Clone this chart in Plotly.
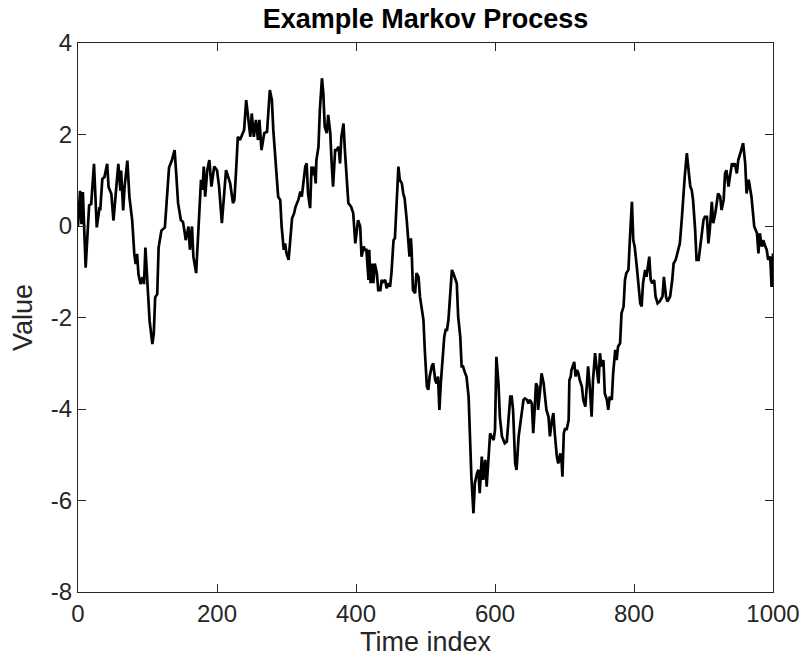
import plotly.graph_objects as go

# Sampled path of the process, split into consecutive stretches of time
t_000 = [0, 3, 5, 7, 11, 14, 16, 19, 23, 27, 31, 32, 35, 38, 42, 44, 48, 51, 54, 58,
         61, 62, 65, 67, 71, 74, 78, 81, 83, 85, 87, 90, 93, 95, 97, 99, 103, 107, 109,
         111, 114, 116, 120, 125, 127, 131, 135]
v_000 = [0.00, 0.77, 0.04, 0.74, -0.91, -0.18, 0.45, 0.48, 1.36, -0.03, 0.41, 0.34, 1.03,
         1.07, 1.36, 0.85, 0.70, 0.12, 0.74, 1.36, 0.77, 1.21, 0.34, 0.85, 1.43, 0.63, 0.12,
         -0.61, -0.83, -0.61, -1.05, -1.27, -1.12, -1.27, -0.47, -1.12, -2.07, -2.58, -2.36,
         -1.56, -1.49, -0.47, -0.10, -0.03, 0.48, 1.28, 1.43]

t_140 = [139, 141, 144, 148, 151, 153, 155, 159, 161, 164, 166, 170, 173, 177, 179, 181,
         183, 186, 189, 192, 196, 200, 203, 207, 210, 213, 216, 219, 223, 225, 227, 230,
         233, 237, 239, 242, 248, 250, 253, 256, 259, 261, 264, 268]
v_140 = [1.66, 1.22, 0.50, 0.13, 0.09, -0.09, -0.31, -0.01, -0.52, -0.01, -0.67, -1.03,
         -0.23, 1.01, 0.79, 1.30, 0.64, 1.22, 1.44, 0.86, 1.30, 1.22, 0.86, 0.06, 0.64, 1.22,
         1.08, 0.93, 0.50, 0.57, 1.08, 1.95, 1.88, 2.03, 2.10, 2.75, 1.95, 2.46, 1.95, 2.32,
         1.88, 2.32, 1.66, 2.03]

t_270 = [272, 276, 279, 281, 284, 286, 288, 291, 293, 296, 298, 300, 303, 305, 308, 311,
         313, 317, 320, 322, 324, 327, 329, 331, 334, 336, 339, 340, 342, 343, 346, 348,
         351, 353, 355, 358, 360, 363, 365, 367, 370, 372, 375, 377, 379, 382, 384, 387,
         389, 393, 396, 399, 401, 403, 406, 408, 411, 413]
v_270 = [2.06, 2.97, 2.75, 2.10, 1.44, 0.86, 0.64, 0.57, -0.01, -0.52, -0.38, -0.60, -0.74,
         -0.38, 0.17, 0.28, 0.42, 0.57, 0.75, 0.64, 0.90, 1.30, 1.37, 0.71, 0.39, 1.30, 1.11,
         1.30, 0.93, 1.44, 1.73, 2.54, 3.23, 2.90, 2.17, 2.03, 2.43, 2.03, 1.37, 0.86, 1.66,
         1.66, 1.73, 1.37, 1.95, 2.24, 1.66, 1.08, 0.50, 0.42, 0.28, -0.38, -0.16, 0.13,
         -0.01, -0.67, -0.45, -0.52]

t_415 = [415, 418, 419, 421, 423, 425, 427, 430, 432, 435, 437, 439, 442, 444, 447, 449,
         451, 454, 456, 459, 461, 463, 466, 468, 470, 473, 475, 477, 479, 480, 482, 485,
         487, 490, 492, 494, 497, 499, 502, 504, 506, 509, 511, 514, 516, 518, 520, 522,
         524, 527, 529, 531, 533, 535, 538, 540, 542]
v_415 = [-0.52, -1.18, -0.52, -1.25, -0.82, -1.25, -0.82, -1.03, -1.40, -1.40, -1.18, -1.22,
         -1.18, -1.36, -1.25, -1.33, -1.03, -0.31, -0.27, 0.71, 1.30, 1.01, 0.93, 0.71, 0.60,
         0.13, -0.23, -0.67, -0.27, -0.52, -1.40, -1.47, -1.03, -1.11, -1.54, -1.76, -2.05,
         -2.71, -3.51, -3.58, -3.29, -3.07, -3.00, -3.37, -3.44, -3.29, -4.02, -3.44, -3.07,
         -2.42, -2.27, -2.27, -2.05, -1.54, -0.96, -1.03, -1.11]

t_545 = [545, 547, 550, 552, 554, 557, 559, 562, 564, 566, 569, 571, 574, 576, 578, 581,
         583, 586, 588, 590, 593, 595, 598, 600, 602, 605, 607, 610, 612, 614, 617, 619,
         622, 624, 626, 629, 631, 634, 636, 638, 641, 643, 646, 648, 650, 653, 655, 657,
         659, 661, 662, 665, 667, 670, 672, 674, 677]
v_545 = [-1.25, -1.98, -2.42, -3.07, -3.07, -3.22, -3.29, -3.73, -4.60, -5.48, -6.28, -5.62,
         -5.41, -5.33, -5.84, -5.04, -5.55, -5.11, -5.70, -5.11, -4.53, -4.60, -4.68, -4.46,
         -2.86, -3.44, -4.17, -4.60, -4.68, -4.75, -4.71, -4.24, -3.73, -3.73, -4.02, -5.19,
         -5.33, -4.60, -4.35, -4.09, -3.80, -3.77, -3.80, -3.88, -3.80, -3.88, -4.53, -4.02,
         -3.44, -3.51, -4.02, -3.58, -3.22, -3.44, -3.80, -4.02, -4.17]

t_679 = [679, 682, 684, 686, 689, 691, 694, 696, 697, 699, 701, 703, 706, 707, 709, 710,
         714, 716, 718, 720, 722, 725, 727, 730, 732, 734, 737, 739, 741, 744, 746, 749,
         751, 753, 756, 758, 761, 763, 765, 768, 770, 773, 775, 777, 780, 782, 785, 787,
         789, 792, 794, 797, 799, 801, 804, 806, 809, 811, 813]
v_679 = [-4.60, -4.24, -4.09, -4.53, -5.04, -5.19, -4.97, -5.19, -5.48, -4.53, -4.42, -4.46,
         -4.24, -3.37, -3.29, -3.15, -2.97, -3.29, -3.15, -3.22, -3.37, -3.51, -3.80, -3.95,
         -3.51, -3.07, -3.66, -4.17, -3.37, -2.78, -3.07, -3.44, -2.78, -3.07, -2.93, -3.66,
         -3.80, -4.02, -3.73, -3.80, -3.22, -2.71, -2.93, -2.64, -2.56, -1.91, -1.76, -1.18,
         -1.03, -0.96, -0.31, 0.53, -0.31, -0.45, -0.89, -1.25, -1.69, -1.76, -1.25]

t_816 = [816, 818, 822, 824, 826, 829, 831, 834, 837, 841, 843, 846, 848, 852, 855, 857,
         860, 862, 864, 866, 869, 871, 873, 876, 878, 881, 883, 885, 888, 890, 893, 895,
         897, 900, 902, 905, 907, 909, 912, 914, 917, 919, 921, 924, 926, 929, 931, 933,
         936, 938, 941, 943, 945, 948, 950, 953, 955, 957, 960, 962, 965, 967, 969, 973,
         977, 979, 981, 984, 986, 989, 991, 993, 996, 998, 1000]
v_816 = [-0.96, -1.11, -0.67, -1.18, -1.25, -1.18, -1.54, -1.69, -1.65, -1.54, -1.11, -1.54,
         -1.65, -1.54, -1.18, -0.82, -0.74, -0.60, -0.52, -0.38, 0.20, 0.79, 1.08, 1.59, 1.30,
         0.86, 0.79, 0.57, -0.09, -0.74, -0.74, -0.52, -0.23, 0.13, 0.20, 0.20, -0.38, -0.09,
         0.53, 0.06, 0.28, 0.50, 0.71, 0.64, 0.35, 0.57, 1.15, 1.22, 0.86, 1.08, 1.37, 1.30,
         1.37, 1.15, 1.44, 1.59, 1.73, 1.81, 1.37, 0.71, 1.01, 0.79, 0.64, -0.01, -0.16,
         -0.60, -0.16, -0.45, -0.31, -0.45, -0.52, -0.74, -0.67, -1.33, -0.60]

x_ticks = [0, 200, 400, 600, 800, 1000]
y_ticks = [-8, -6, -4, -2, 0, 2, 4]

time_index = t_000 + t_140 + t_270 + t_415 + t_545 + t_679 + t_816
value = v_000 + v_140 + v_270 + v_415 + v_545 + v_679 + v_816

AXIS = "#262626"
FONT = "Liberation Sans, Arial, Helvetica, sans-serif"

fig = go.Figure(
    go.Scatter(
        x=time_index,
        y=value,
        mode="lines",
        line=dict(color="black", width=2.7),
        hoverinfo="x+y",
    )
)

axis_common = dict(
    showgrid=False,
    zeroline=False,
    showline=True,
    linecolor=AXIS,
    linewidth=1,
    mirror="ticks",
    ticks="inside",
    ticklen=8,
    tickwidth=1,
    tickcolor=AXIS,
    automargin=False,
    tickfont=dict(family=FONT, size=24, color=AXIS),
)

fig.update_xaxes(
    range=[0, 1000],
    tickvals=x_ticks,
    ticktext=[str(v) for v in x_ticks],
    title=dict(text="Time index", font=dict(family=FONT, size=27, color=AXIS), standoff=4),
    **axis_common,
)
fig.update_yaxes(
    range=[-8, 4],
    tickvals=y_ticks,
    ticktext=[str(v) for v in y_ticks],
    title=dict(text="Value", font=dict(family=FONT, size=27, color=AXIS), standoff=10),
    **axis_common,
)

fig.update_layout(
    width=804,
    height=659,
    margin=dict(l=78, r=31, t=43, b=67),
    paper_bgcolor="white",
    plot_bgcolor="white",
    showlegend=False,
    title=dict(
        text="<b>Example Markov Process</b>",
        font=dict(family=FONT, size=27, color="black"),
        x=0.5,
        xref="paper",
        xanchor="center",
        y=1 - 19 / 659,
        yref="container",
        yanchor="middle",
    ),
)

fig.write_html("out.html")
